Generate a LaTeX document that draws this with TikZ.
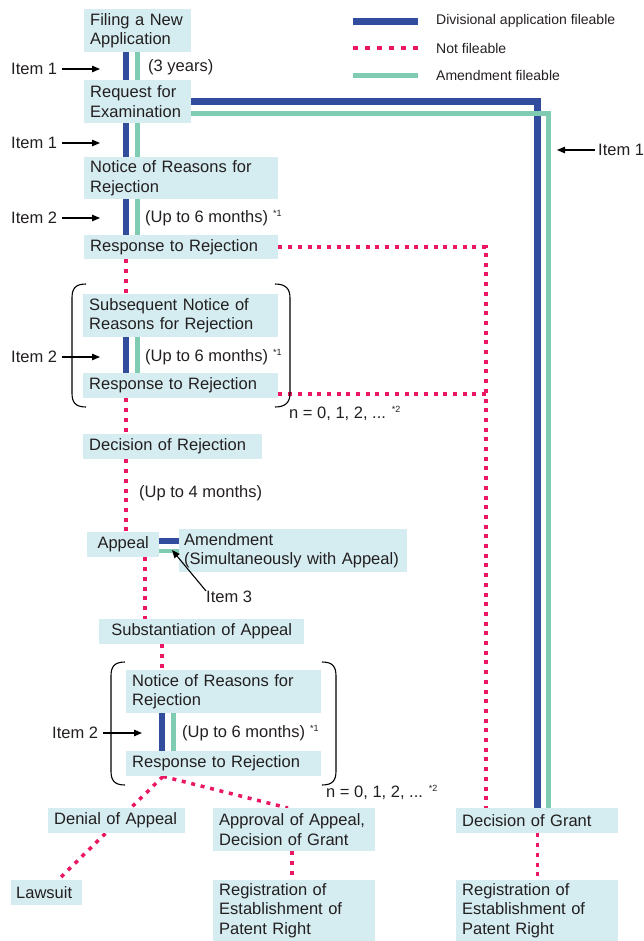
\documentclass[tikz,border=0pt]{standalone}
\usepackage{fontspec}
\setmainfont{Liberation Sans}
\usetikzlibrary{arrows.meta,backgrounds}
\definecolor{divblue}{RGB}{51,77,158}
\definecolor{amgreen}{RGB}{128,204,178}
\definecolor{nfpink}{RGB}{234,24,100}
\definecolor{boxfill}{RGB}{213,237,241}
\definecolor{txt}{RGB}{35,31,32}
\newcommand\ftmk[1]{\raisebox{6pt}{\fontsize{9}{9}\selectfont *#1}}
\begin{document}
\begin{tikzpicture}[x=1pt,y=-1pt,
  every node/.style={text=txt, font=\fontsize{16.5}{19.5}\selectfont},
  box/.style={fill=boxfill, anchor=north west, inner xsep=6pt, inner ysep=0pt, align=left},
  cbox/.style={box, align=center},
  plain/.style={anchor=west, inner sep=0pt},
  legtext/.style={plain, font=\fontsize{14}{16}\selectfont},
  divbar/.style={draw=divblue, line width=6.5pt},
  amgbar/.style={draw=amgreen, line width=5pt},
  nf/.style={draw=nfpink, line width=3.5pt, dash pattern=on 4pt off 5.7pt},
  itemarrow/.style={draw=black, line width=1.1pt, -{Triangle[length=8pt,width=6.5pt]}},
  brk/.style={draw=black, line width=1.1pt}
]
\useasboundingbox (0,0) rectangle (644,941);

% ---------- legend ----------
\node[legtext] (lg1) at (436,21) {Divisional application fileable};
\node[legtext] (lg2) at (436,48) {Not fileable};
\node[legtext] (lg3) at (436,75) {Amendment fileable};
\draw[divbar] (353,21.5) -- (418,21.5);
\draw[nf, dash pattern=on 4.5pt off 7.5pt] (353,48) -- (418,48);
\draw[amgbar] (353,75.5) -- (418,75.5);

% ---------- boxes ----------
\node[box, text width=95pt, minimum height=43pt] (filing) at (84,9) {Filing a New\\Application};
\node[box, text width=95pt, minimum height=43pt] (request) at (84,80) {Request for\\Examination};
\node[box, text width=182pt, minimum height=42pt] (notice1) at (84,157) {Notice of Reasons for\\Rejection};
\node[box, text width=182pt, minimum height=24pt] (resp1) at (84,235) {Response to Rejection};
\node[box, text width=183pt, minimum height=43pt] (subs) at (83,294) {Subsequent Notice of\\Reasons for Rejection};
\node[box, text width=183pt, minimum height=25pt] (resp2) at (83,373) {Response to Rejection};
\node[box, text width=167pt, minimum height=25pt] (decrej) at (83,434) {Decision of Rejection};
\node[cbox, text width=60pt, minimum height=25pt] (appeal) at (87,532) {Appeal};
\node[box, inner xsep=5pt, text width=218pt, minimum height=43pt] (amend) at (179,529) {\mbox{Amendment}\\\mbox{(Simultaneously with Appeal)}};
\node[cbox, text width=193pt, minimum height=25pt] (subst) at (99,619) {Substantiation of Appeal};
\node[box, text width=183pt, minimum height=43pt] (notice3) at (126,670) {Notice of Reasons for\\Rejection};
\node[box, text width=183pt, minimum height=25pt] (resp3) at (126,751) {Response to Rejection};
\node[box, text width=125pt, minimum height=25pt] (denial) at (48,808) {Denial of Appeal};
\node[box, text width=150pt, minimum height=43pt] (approval) at (213,808) {Approval of Appeal,\\Decision of Grant};
\node[box, text width=59pt, minimum height=25pt, inner xsep=5pt, text width=61pt] (lawsuit) at (11,880) {Lawsuit};
\node[box, text width=150pt, minimum height=61pt] (reg1) at (213,880) {Registration of\\Establishment of\\Patent Right};
\node[box, text width=150pt, minimum height=25pt] (grant) at (456,808) {Decision of Grant};
\node[box, text width=150pt, minimum height=61pt] (reg2) at (456,880) {Registration of\\Establishment of\\Patent Right};

% ---------- labels ----------
\node[plain] (yrs) at (148,67) {(3 years)};
\node[plain] (six1) at (145,218) {(Up to 6 months)\hspace{5pt}\ftmk{1}};
\node[plain] (six2) at (145,357) {(Up to 6 months)\hspace{5pt}\ftmk{1}};
\node[plain] (six3) at (182,733) {(Up to 6 months)\hspace{5pt}\ftmk{1}};
\node[plain] (nn1) at (289,413) {n = 0, 1, 2, ...\hspace{6pt}\ftmk{2}};
\node[plain] (nn2) at (326,792) {n = 0, 1, 2, ...\hspace{6pt}\ftmk{2}};
\node[plain] (four) at (139,493) {(Up to 4 months)};

\node[plain] (it1a) at (11,69) {Item 1};
\node[plain] (it1b) at (11,143) {Item 1};
\node[plain] (it2a) at (11,218) {Item 2};
\node[plain] (it2b) at (11,357) {Item 2};
\node[plain] (it2c) at (52,733) {Item 2};
\node[plain] (it1c) at (598,150) {Item 1};
\node[plain] (it3) at (206,597) {Item 3};

\coordinate (t1a) at (100,69);
\coordinate (t1b) at (100,143);
\coordinate (t2a) at (100,218);
\coordinate (t2b) at (100,357);
\coordinate (t2c) at (142,733);
\coordinate (t1c) at (557,150);
\coordinate (t3) at (172,550);

\draw[itemarrow, shorten <=5pt] (it1a.east) -- (t1a);
\draw[itemarrow, shorten <=5pt] (it1b.east) -- (t1b);
\draw[itemarrow, shorten <=5pt] (it2a.east) -- (t2a);
\draw[itemarrow, shorten <=5pt] (it2b.east) -- (t2b);
\draw[itemarrow, shorten <=5pt] (it2c.east) -- (t2c);
\draw[itemarrow, shorten <=3pt] (it1c.west) -- (t1c);

% ---------- brackets ----------
\draw[brk] (86,284) .. controls (75,284) and (72,289) .. (72,298) -- (72,393) .. controls (72,402) and (75,407) .. (86,407);
\draw[brk] (275,284) .. controls (286,284) and (290,289) .. (290,298) -- (290,393) .. controls (290,402) and (286,407) .. (275,407);
\draw[brk] (125,662) .. controls (114,662) and (111,667) .. (111,676) -- (111,771) .. controls (111,780) and (114,785) .. (125,785);
\draw[brk] (322,662) .. controls (333,662) and (336,667) .. (336,676) -- (336,771) .. controls (336,780) and (333,785) .. (322,785);

% ---------- column coordinates ----------
\coordinate (cb) at (126,0);
\coordinate (cg) at (137.5,0);
\coordinate (cb3) at (162,0);
\coordinate (cg3) at (173.5,0);
\coordinate (cap) at (145,0);
\coordinate (cp) at (486,0);
\coordinate (cgb) at (537.3,101.5);
\coordinate (cgg) at (548.3,113.7);
\coordinate (r2y) at (0,394);
\coordinate (r3p) at (163,0);
\coordinate (dtop) at (130.7,0);
\coordinate (dbot) at (105.4,0);
\coordinate (lwp) at (58,0);
\coordinate (apt) at (288,0);
\coordinate (apb) at (292,0);
\coordinate (aby) at (0,541);
\coordinate (agy) at (0,551);

\begin{pgfonlayer}{background}
% not fileable
\draw[nf] (resp1.south -| cb) -- (subs.north -| cb);
\draw[nf] (resp2.south -| cb) -- (decrej.north -| cb);
\draw[nf] (decrej.south -| cb) -- (appeal.north -| cb);
\draw[nf] (appeal.south -| cap) -- (subst.north -| cap);
\draw[nf] (subst.south -| cb3) -- (notice3.north -| cb3);
\draw[nf] (resp3.south -| r3p) -- (denial.north -| dtop);
\draw[nf] (denial.south -| dbot) -- (lawsuit.north -| lwp);
\draw[nf] (resp3.south -| r3p) -- (approval.north -| apt);
\draw[nf] (approval.south -| apb) -- (reg1.north -| apb);
\draw[nf] (resp1.east) -- (resp1.east -| cp) -- (grant.north -| cp);
\draw[nf] (resp2.east |- r2y) -- (cp |- r2y);
\draw[nf] (grant.south -| cgb) -- (reg2.north -| cgb);
\end{pgfonlayer}

% divisional / amendment bars
\draw[divbar] (filing.south -| cb) -- (request.north -| cb);
\draw[amgbar] (filing.south -| cg) -- (request.north -| cg);
\draw[divbar] (request.south -| cb) -- (notice1.north -| cb);
\draw[amgbar] (request.south -| cg) -- (notice1.north -| cg);
\draw[divbar] (notice1.south -| cb) -- (resp1.north -| cb);
\draw[amgbar] (notice1.south -| cg) -- (resp1.north -| cg);
\draw[divbar] (subs.south -| cb) -- (resp2.north -| cb);
\draw[amgbar] (subs.south -| cg) -- (resp2.north -| cg);
\draw[divbar] (notice3.south -| cb3) -- (resp3.north -| cb3);
\draw[amgbar] (notice3.south -| cg3) -- (resp3.north -| cg3);
\draw[divbar, line width=6pt] (appeal.east |- aby) -- (amend.west |- aby);
\draw[amgbar, line width=4.5pt] (appeal.east |- agy) -- (amend.west |- agy);

\draw[divbar, line join=miter] (request.east |- cgb) -- (cgb) -- (grant.north -| cgb);
\draw[amgbar, line join=miter] (request.east |- cgg) -- (cgg) -- (grant.north -| cgg);

\draw[itemarrow] (it3.north west) -- (t3);
\end{tikzpicture}
\end{document}
